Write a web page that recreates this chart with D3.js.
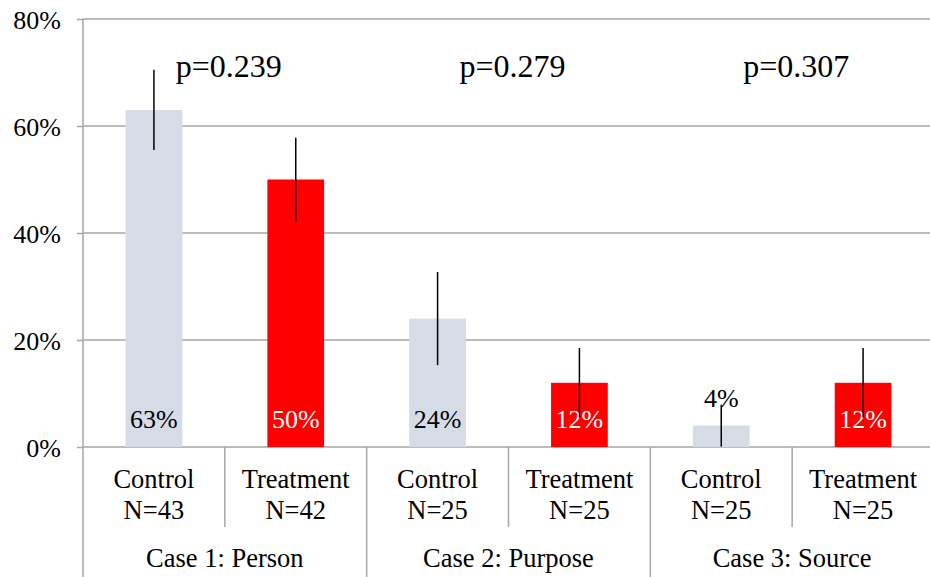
<!DOCTYPE html>
<html>
<head>
<meta charset="utf-8">
<script src="https://cdn.jsdelivr.net/npm/d3@7"></script>
<style>
  body { margin: 0; background: #fff; }
</style>
</head>
<body>
<script>
// chart data
var cases = ["Case 1: Person", "Case 2: Purpose", "Case 3: Source"];
var groups = ["Control", "Treatment"];
var nValues = [43, 42, 25, 25, 25, 25];
var pctValues = [63, 50, 24, 12, 4, 12];
var errValues = [7.5, 7.8, 8.7, 6.5, 3.9, 6.5];
var pValues = ["p=0.239", "p=0.279", "p=0.307"];
var yTicks = [0, 20, 40, 60, 80];

var width = 930, height = 577;
var plotLeft = 83, plotRight = 934, plotTop = 19, axisY = 447;
var serif = "'Liberation Serif', 'Times New Roman', serif";

// one row per bar
var bars = [];
cases.forEach(function(c, i) {
    groups.forEach(function(g, j) {
        var k = i * groups.length + j;
        bars.push({id: k, caseName: c, group: g, n: nValues[k], value: pctValues[k], err: errValues[k]});
    });
});

var svg = d3.select("body")
    .append("svg")
    .attr("width", width)
    .attr("height", height)
    .attr("font-family", serif);

var x = d3.scaleBand()
    .domain(bars.map(function(d) { return d.id; }))
    .range([plotLeft, plotRight])
    .paddingInner(0.6)
    .paddingOuter(0.3);

// same categories without padding, for the separator lines
var xCat = d3.scaleBand()
    .domain(bars.map(function(d) { return d.id; }))
    .range([plotLeft, plotRight]);

var xCase = d3.scaleBand()
    .domain(cases)
    .range([plotLeft, plotRight]);

var y = d3.scaleLinear()
    .domain([0, 80])
    .range([axisY, plotTop]);

// gridlines
svg.append("g")
    .selectAll("line")
    .data(yTicks)
    .enter()
    .append("line")
    .attr("x1", plotLeft)
    .attr("x2", width)
    .attr("y1", function(d) { return y(d); })
    .attr("y2", function(d) { return y(d); })
    .attr("stroke", "#a6a6a6")
    .attr("stroke-width", 1.5);

// y axis
var yAxis = svg.append("g")
    .attr("transform", "translate(" + plotLeft + ",0)")
    .call(d3.axisLeft(y).tickValues(yTicks).tickSize(6).tickPadding(16)
        .tickFormat(function(d) { return d + "%"; }));
yAxis.attr("font-family", serif).attr("font-size", 26);
yAxis.select(".domain").remove();
yAxis.selectAll("line").attr("stroke", "#a6a6a6").attr("stroke-width", 1.5);
yAxis.selectAll("text")
    .attr("fill", "#000")
    .attr("dy", "0.35em");

// vertical axis line, running down through the category labels
svg.append("line")
    .attr("x1", plotLeft).attr("x2", plotLeft)
    .attr("y1", plotTop).attr("y2", height)
    .attr("stroke", "#a6a6a6")
    .attr("stroke-width", 1.5);

// separators between categories
svg.append("g")
    .selectAll("line")
    .data(bars.filter(function(d) { return d.id > 0; }))
    .enter()
    .append("line")
    .attr("x1", function(d) { return xCat(d.id); })
    .attr("x2", function(d) { return xCat(d.id); })
    .attr("y1", axisY)
    .attr("y2", function(d) { return d.id % groups.length == 0 ? height : 527; })
    .attr("stroke", "#a6a6a6")
    .attr("stroke-width", 1.5);

// bars
svg.append("g")
    .selectAll("rect")
    .data(bars)
    .enter()
    .append("rect")
    .attr("x", function(d) { return x(d.id); })
    .attr("width", x.bandwidth())
    .attr("y", function(d) { return y(d.value); })
    .attr("height", function(d) { return axisY - y(d.value); })
    .attr("fill", function(d) { return d.group == "Control" ? "#d6dce5" : "#ff0000"; });

// bar labels: inside the base, or above a bar that is too short
svg.append("g")
    .selectAll("text")
    .data(bars)
    .enter()
    .append("text")
    .attr("x", function(d) { return x(d.id) + x.bandwidth() / 2; })
    .attr("y", function(d) {
        return (axisY - y(d.value)) < 30 ? y(d.value) - 19 : axisY - 19;
    })
    .attr("text-anchor", "middle")
    .attr("font-size", 26)
    .attr("fill", function(d) { return d.group == "Control" ? "#000" : "#fff"; })
    .text(function(d) { return d.value + "%"; });

// error bars (no caps)
svg.append("g")
    .selectAll("line")
    .data(bars)
    .enter()
    .append("line")
    .attr("x1", function(d) { return x(d.id) + x.bandwidth() / 2; })
    .attr("x2", function(d) { return x(d.id) + x.bandwidth() / 2; })
    .attr("y1", function(d) { return y(d.value + d.err); })
    .attr("y2", function(d) { return y(Math.max(0, d.value - d.err)); })
    .attr("stroke", "#000")
    .attr("stroke-width", 1.5);

// p values above each case
svg.append("g")
    .selectAll("text")
    .data(cases)
    .enter()
    .append("text")
    .attr("x", function(d) { return xCase(d) + xCase.bandwidth() / 2 + 4; })
    .attr("y", 77)
    .attr("text-anchor", "middle")
    .attr("font-size", 32)
    .text(function(d, i) { return pValues[i]; });

// category labels
var catLabels = svg.append("g")
    .selectAll("text")
    .data(bars)
    .enter()
    .append("text")
    .attr("text-anchor", "middle")
    .attr("font-size", 26.5);
catLabels.append("tspan")
    .attr("x", function(d) { return xCat(d.id) + xCat.bandwidth() / 2; })
    .attr("y", 488)
    .text(function(d) { return d.group; });
catLabels.append("tspan")
    .attr("x", function(d) { return xCat(d.id) + xCat.bandwidth() / 2; })
    .attr("y", 519)
    .text(function(d) { return "N=" + d.n; });

// case labels
svg.append("g")
    .selectAll("text")
    .data(cases)
    .enter()
    .append("text")
    .attr("x", function(d) { return xCase(d) + xCase.bandwidth() / 2; })
    .attr("y", 567)
    .attr("text-anchor", "middle")
    .attr("font-size", 26.5)
    .text(function(d) { return d; });
</script>
</body>
</html>
